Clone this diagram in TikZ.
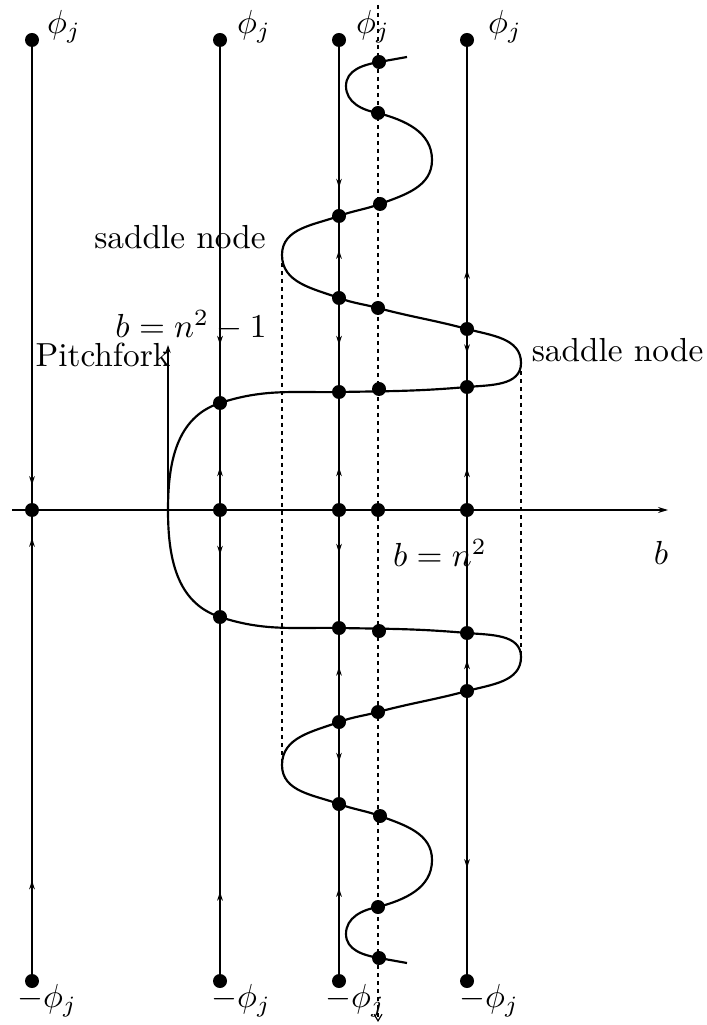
\documentclass[tikz,border=0pt]{standalone}
\usepackage{amsmath,amssymb}
\usetikzlibrary{arrows.meta, decorations.markings}

\tikzset{
  dot/.style={circle, fill, inner sep=0pt, minimum size=4.2pt},
  lab/.style={inner sep=0pt},
  flowline/.style={line width=0.4pt},
  guide/.style={line width=0.35pt, dash pattern=on 1.2pt off 1.2pt},
  curve/.style={line width=0.65pt},
  tipdown/.style={postaction={decorate, decoration={markings,
      mark=at position #1 with {\arrow{Stealth[length=2.7pt,width=1.7pt]}}}}},
  tipup/.style={postaction={decorate, decoration={markings,
      mark=at position #1 with {\arrowreversed{Stealth[length=2.7pt,width=1.7pt]}}}}},
}

\begin{document}
\begin{tikzpicture}[x=0.3pt, y=-0.3pt]
    \useasboundingbox (0,0) rectangle (706,1025);

    % end points of the phase lines
    \foreach \x/\n in {32/1, 220/2, 339/3, 467/5} {
        \coordinate (t\n) at (\x,40);
        \coordinate (b\n) at (\x,981);
    }
    \coordinate (d4t) at (378,5);
    \coordinate (d4b) at (378,1022);
    \coordinate (ax0) at (12,510);
    \coordinate (ax1) at (668,510);
    \coordinate (pf) at (168,510);
    \coordinate (pftip) at (168,345);
    \coordinate (sn1) at (282,255);
    \coordinate (sn2) at (282,765);
    \coordinate (sn3) at (521,363);
    \coordinate (sn4) at (521,657);

    % axis
    \draw[line width=0.4pt, -{Stealth[length=3pt,width=1.8pt]}] (ax0) -- (ax1);

    % phase lines with flow directions
    \draw[flowline, tipdown=0.473, tipup=0.529, tipup=0.893] (t1) -- (b1);
    \draw[flowline, tipdown=0.324, tipup=0.454, tipdown=0.547, tipup=0.905] (t2) -- (b2);
    \draw[flowline, tipdown=0.157, tipup=0.223, tipdown=0.324, tipup=0.454,
          tipdown=0.545, tipup=0.666, tipdown=0.767, tipup=0.901] (t3) -- (b3);
    \draw[flowline, tipup=0.244, tipdown=0.333, tipup=0.455, tipup=0.659, tipdown=0.880] (t5) -- (b5);
    \draw[guide, -{Straight Barb[length=2pt,width=2.4pt]}] (d4t) -- (d4b);

    % saddle node drop lines
    \draw[guide] (sn1) -- (sn2);
    \draw[guide] (sn3) -- (sn4);

    % pitchfork marker
    \draw[flowline, -{Stealth[length=2.4pt,width=1.6pt]}] (pf) -- (pftip);

    % branch of equilibria
    \draw[curve] (407,57) to[out=190,in=10] (379,62) to[out=190,in=90] (346,86)
        to[out=270,in=170] (378,113) to[out=345,in=90] (432,160)
        to[out=270,in=20] (380,204) to[out=200,in=20] (339,216)
        to[out=200,in=90] (282,255) to[out=270,in=160] (339,298)
        to[out=340,in=165] (378,308) to[out=345,in=165] (467,329)
        to[out=345,in=90] (521,363) to[out=270,in=5] (467,387)
        to[out=185,in=1] (339,392) to[out=181,in=18] (220,403)
        to[out=198,in=90] (168,510)
        to[out=270,in=162] (220,617) to[out=342,in=179] (339,628)
        to[out=359,in=175] (467,633) to[out=355,in=90] (521,657)
        to[out=270,in=15] (467,691) to[out=195,in=15] (378,712)
        to[out=195,in=20] (339,722) to[out=200,in=90] (282,765)
        to[out=270,in=160] (339,804) to[out=340,in=160] (380,816)
        to[out=340,in=90] (432,860) to[out=270,in=15] (378,907)
        to[out=190,in=90] (346,934) to[out=270,in=170] (379,958)
        to[out=350,in=170] (407,963);

    % equilibria
    \foreach \x/\y [count=\i] in {32/40, 32/510, 32/981,
        220/40, 220/403, 220/510, 220/617, 220/981,
        339/40, 339/216, 339/298, 339/392, 339/510, 339/628, 339/722, 339/804, 339/981,
        379/62, 378/113, 380/204, 378/308, 379/389, 378/510, 379/631, 378/712,
        380/816, 378/907, 379/958,
        467/40, 467/329, 467/387, 467/510, 467/633, 467/691, 467/981}
        \node[dot] (e\i) at (\x,\y) {};

    % labels
    \foreach \x/\n in {64/1, 254/2, 373/3, 505/5}
        \node[lab] (top\n) at (\x,27) {$\phi_j$};
    \foreach \x/\n in {47/1, 241/2, 355/3, 489/5}
        \node[lab] (bot\n) at (\x,1001) {$-\phi_j$};
    \node[lab] (sadl) at (180,237) {saddle node};
    \node[lab, anchor=east] (sadr) at (704,350) {saddle node};
    \node[lab] (bpf) at (191,325) {$b=n^2-1$};
    \node[lab] (pitch) at (103,355) {Pitchfork};
    \node[lab] (bn) at (440,553) {$b=n^2$};
    \node[lab] (blab) at (661,553) {$b$};
\end{tikzpicture}
\end{document}
